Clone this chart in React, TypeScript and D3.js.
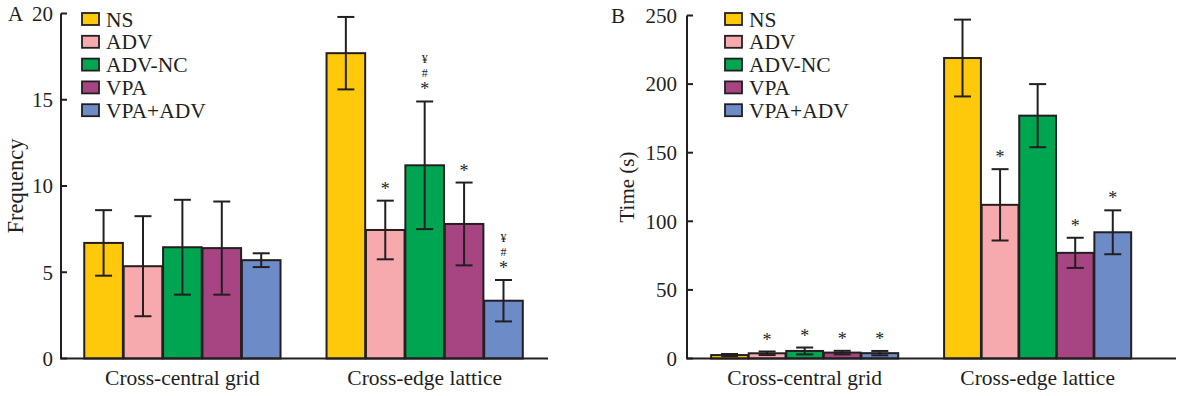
import React from 'react';
import * as d3 from 'd3';

const groups = ['Cross-central grid', 'Cross-edge lattice'];
const seriesNames = ['NS', 'ADV', 'ADV-NC', 'VPA', 'VPA+ADV'];
const seriesColors = ['#FFC90B', '#F7AAAE', '#00A551', '#A64582', '#6D8BC7'];

const freqMean = [[6.7, 5.35, 6.45, 6.4, 5.7], [17.7, 7.45, 11.2, 7.8, 3.35]];
const freqErr = [[1.9, 2.9, 2.75, 2.7, 0.4], [2.1, 1.7, 3.7, 2.4, 1.2]];
const freqMarks = [[[], [], [], [], []], [[], ['*'], ['*', '#', '¥'], ['*'], ['*', '#', '¥']]];
const freqTicks = [0, 5, 10, 15, 20];

const timeMean = [[2.5, 3.8, 5.5, 4.3, 3.9], [219, 112, 177, 77, 92]];
const timeErr = [[0.8, 1.3, 2.5, 1.3, 1.6], [28, 26, 23, 11, 16]];
const timeMarks = [[[], ['*'], ['*'], ['*'], ['*']], [[], ['*'], [], ['*'], ['*']]];
const timeTicks = [0, 50, 100, 150, 200, 250];

const INK = '#231F20';
const FONT = '"Liberation Serif", "Times New Roman", serif';

type PanelProps = {
  letter: string;
  yLabel: string;
  yLabelSize: number;
  mean: number[][];
  err: number[][];
  marks: string[][][];
  ticks: number[];
  yMax: number;
  x0: number;
  x1: number;
  yTopPx: number;
  padInner: number;
  padOuter: number;
  align: number;
  letterX: number;
  tickLabelX: number;
  yLabelX: number;
  legendX: number;
};

const Y0 = 358.5;

function Panel(p: PanelProps) {
  const y = d3.scaleLinear().domain([0, p.yMax]).range([Y0, p.yTopPx]);
  const xg = d3.scaleBand<string>().domain(groups).range([p.x0, p.x1])
    .paddingInner(p.padInner).paddingOuter(p.padOuter).align(p.align);
  const xs = d3.scaleBand<string>().domain(seriesNames).range([0, xg.bandwidth()]).paddingInner(0.02);
  const markOffsets = [6, 24.5, 38.5];
  const markSizes = [18, 12, 12];
  return (
    <g>
      <text x={p.letterX} y={p.yTopPx + 7} fontSize={21} fontFamily={FONT} fill={INK}>{p.letter}</text>
      {groups.map((g, gi) => (
        <g key={g} transform={`translate(${xg(g)},0)`}>
          {seriesNames.map((s, si) => {
            const v = p.mean[gi][si];
            const e = p.err[gi][si];
            const bx = xs(s)!;
            const bw = xs.bandwidth();
            const cx = bx + bw / 2;
            const top = y(v + e);
            const bot = y(Math.max(0, v - e));
            return (
              <g key={s}>
                <rect x={bx} y={y(v)} width={bw} height={Y0 - y(v)} fill={seriesColors[si]} stroke={INK} strokeWidth={2} />
                <line x1={cx} x2={cx} y1={top} y2={bot} stroke={INK} strokeWidth={2} />
                <line x1={cx - 8.5} x2={cx + 8.5} y1={top} y2={top} stroke={INK} strokeWidth={2} />
                <line x1={cx - 8.5} x2={cx + 8.5} y1={bot} y2={bot} stroke={INK} strokeWidth={2} />
                {p.marks[gi][si].map((m, mi) => (
                  <text key={mi} x={cx} y={top - markOffsets[mi]} textAnchor="middle" fontSize={markSizes[mi]} fontFamily={FONT} fill={INK}>{m}</text>
                ))}
              </g>
            );
          })}
          <text x={xg.bandwidth() / 2} y={385} textAnchor="middle" fontSize={21.5} fontFamily={FONT} fill={INK}>{g}</text>
        </g>
      ))}
      <line x1={p.x0} x2={p.x0} y1={p.yTopPx} y2={Y0} stroke={INK} strokeWidth={2} />
      <line x1={p.x0 - 1} x2={p.x1} y1={Y0} y2={Y0} stroke={INK} strokeWidth={2} />
      {p.ticks.map(t => (
        <g key={t}>
          <line x1={p.x0} x2={p.x0 + 6} y1={y(t)} y2={y(t)} stroke={INK} strokeWidth={2} />
          <text x={p.tickLabelX} y={y(t)} dy="0.35em" textAnchor="end" fontSize={21} fontFamily={FONT} fill={INK}>{t}</text>
        </g>
      ))}
      <text transform={`translate(${p.yLabelX},${(Y0 + p.yTopPx) / 2}) rotate(-90)`} textAnchor="middle" fontSize={p.yLabelSize} fontFamily={FONT} fill={INK}>{p.yLabel}</text>
      {seriesNames.map((s, si) => (
        <g key={s} transform={`translate(${p.legendX},${19 + si * 22.8})`}>
          <rect x={0} y={-6} width={17} height={12} fill={seriesColors[si]} stroke={INK} strokeWidth={1.8} />
          <text x={24} y={0} dy="0.35em" fontSize={21.5} fontFamily={FONT} fill={INK}>{s}</text>
        </g>
      ))}
    </g>
  );
}

export default function App() {
  return (
    <svg width={1184} height={396} style={{ position: 'absolute', left: 0, top: 0, background: '#fff' }}>
      <rect x={0} y={0} width={1184} height={396} fill="#fff" />
      <Panel letter="A" yLabel="Frequency" yLabelSize={22.5} mean={freqMean} err={freqErr} marks={freqMarks} ticks={freqTicks}
        yMax={20} x0={61} x1={548} yTopPx={13.5} padInner={0.19} padOuter={0.1} align={0.48}
        letterX={8} tickLabelX={53} yLabelX={23} legendX={82} />
      <Panel letter="B" yLabel="Time (s)" yLabelSize={21} mean={timeMean} err={timeErr} marks={timeMarks} ticks={timeTicks}
        yMax={250} x0={687} x1={1176} yTopPx={15.5} padInner={0.197} padOuter={0.148} align={0.35}
        letterX={611} tickLabelX={677} yLabelX={634} legendX={725} />
    </svg>
  );
}
